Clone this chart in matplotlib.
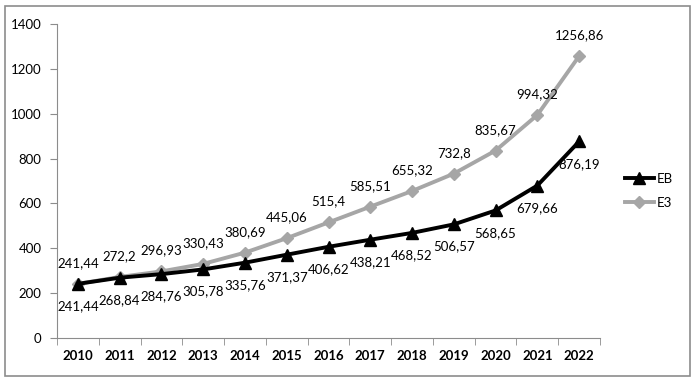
import matplotlib
matplotlib.use("Agg")
import matplotlib.pyplot as plt
from matplotlib.patches import Rectangle

years = ["2010", "2011", "2012", "2013", "2014", "2015", "2016",
         "2017", "2018", "2019", "2020", "2021", "2022"]
eb = [241.44, 268.84, 284.76, 305.78, 335.76, 371.37, 406.62,
      438.21, 468.52, 506.57, 568.65, 679.66, 876.19]
e3 = [241.44, 272.2, 296.93, 330.43, 380.69, 445.06, 515.4,
      585.51, 655.32, 732.8, 835.67, 994.32, 1256.86]
series_names = ["EB", "E3"]

plt.rcParams["font.family"] = ["Lato", "DejaVu Sans"]

W, H = 697, 382
fig = plt.figure(figsize=(W / 100, H / 100), dpi=100)
# outer chart border
fig.patches.append(Rectangle((5 / W, 6 / H), 685 / W, 370 / H, transform=fig.transFigure,
                             fill=False, edgecolor="#8c8c8c", linewidth=1.2))

ax = fig.add_axes([57 / W, 1 - 338 / H, 543 / W, 314 / H])
x = list(range(len(years)))
ax.plot(x, eb, color="black", lw=2.8, marker="^", ms=9, label=series_names[0], zorder=3)
ax.plot(x, e3, color="#a6a6a6", lw=2.8, marker="D", ms=6, label=series_names[1], zorder=2)

def fmt(v):
    return f"{v:g}".replace(".", ",")

for i in x:
    ax.annotate(fmt(eb[i]), (i, eb[i]), xytext=(0, -16), textcoords="offset points",
                ha="center", va="center", fontsize=9.5)
    ax.annotate(fmt(e3[i]), (i, e3[i]), xytext=(0, 15), textcoords="offset points",
                ha="center", va="center", fontsize=9.5)

ax.set_xlim(-0.5, len(years) - 0.5)
ax.set_ylim(0, 1400)
ax.set_yticks(range(0, 1401, 200))
ax.set_xticks(x)
ax.set_xticklabels(years, fontweight="bold")
ax.set_xticks([i - 0.5 for i in range(len(years) + 1)], minor=True)
ax.tick_params(axis="x", which="major", length=0, labelsize=9.5, pad=9)
ax.tick_params(axis="x", which="minor", length=5, color="#8c8c8c")
ax.tick_params(axis="y", length=5, color="#8c8c8c", labelsize=9.5, pad=6)
for s in ["top", "right"]:
    ax.spines[s].set_visible(False)
for s in ["left", "bottom"]:
    ax.spines[s].set_color("#8c8c8c")

fig.legend(loc="center left", bbox_to_anchor=(613 / W, 1 - 191 / H), frameon=False,
           fontsize=9.5, handlelength=2.2, handletextpad=0.2, labelspacing=0.9)

fig.savefig("out.png", dpi=100)
